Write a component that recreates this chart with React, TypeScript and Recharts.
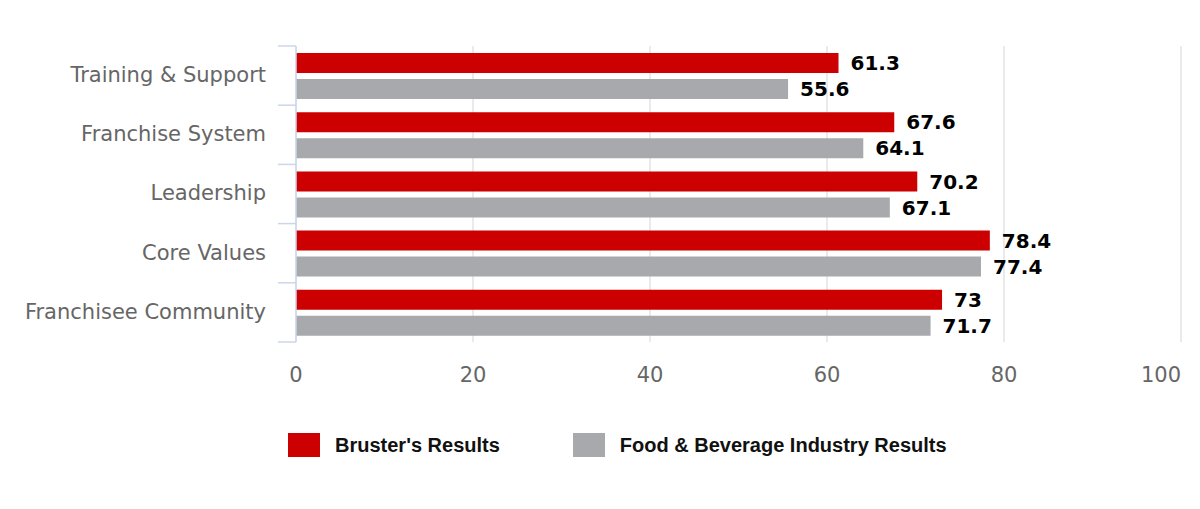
import { BarChart, Bar, XAxis, YAxis, CartesianGrid, LabelList, Legend } from 'recharts'

const categories = ['Training & Support', 'Franchise System', 'Leadership', 'Core Values', 'Franchisee Community']
const brustersResults = [61.3, 67.6, 70.2, 78.4, 73]
const industryResults = [55.6, 64.1, 67.1, 77.4, 71.7]
const xTicks = [0, 20, 40, 60, 80, 100]

const seriesNames = ["Bruster's Results", 'Food & Beverage Industry Results']
const RED = '#cc0000'
const GRAY = '#a7a9ac'

const data = categories.map((name, i) => ({
  name,
  brusters: brustersResults[i],
  industry: industryResults[i],
}))

const WIDTH = 1200
const HEIGHT = 509
const MARGIN = { top: 46, right: 19, bottom: 127, left: 0 }
const X_AXIS_HEIGHT = 40
const PLOT_HEIGHT = HEIGHT - MARGIN.top - MARGIN.bottom - X_AXIS_HEIGHT
const BAND = PLOT_HEIGHT / categories.length
const Y_TICK_MARGIN = 30
const Y_TICK_LEN = 18

const FONT = '"DejaVu Sans", Verdana, sans-serif'

function CategoryTick(props: any) {
  const { x, y, payload, index } = props
  const axisX = x + Y_TICK_MARGIN
  const last = index === categories.length - 1
  return (
    <g>
      <line x1={axisX - Y_TICK_LEN} x2={axisX} y1={y - BAND / 2} y2={y - BAND / 2} stroke="#ccd6eb" strokeWidth={1.5} />
      {last && (
        <line x1={axisX - Y_TICK_LEN} x2={axisX} y1={y + BAND / 2} y2={y + BAND / 2} stroke="#ccd6eb" strokeWidth={1.5} />
      )}
      <text x={x} y={y} dy="0.3em" textAnchor="end" fill="#666" fontSize={21} fontFamily={FONT}>
        {payload.value}
      </text>
    </g>
  )
}

// last label is pulled inside the plot edge, like the original
function ValueTick(props: any) {
  const { x, y, payload, index } = props
  const last = index === xTicks.length - 1
  return (
    <text x={last ? x : x} y={y} dy="0.71em" textAnchor={last ? 'end' : 'middle'} fill="#666" fontSize={21} fontFamily={FONT}>
      {payload.value}
    </text>
  )
}

function LegendContent() {
  const colors = [RED, GRAY]
  return (
    <div style={{ display: 'flex', alignItems: 'center', fontFamily: '"Liberation Sans", Arial, sans-serif', fontWeight: 'bold', fontSize: 20, color: '#111', whiteSpace: 'nowrap' }}>
      {seriesNames.map((n, i) => (
        <div key={n} style={{ display: 'flex', alignItems: 'center', marginRight: 73 }}>
          <span style={{ display: 'inline-block', width: 32, height: 24, background: colors[i], marginRight: 15 }} />
          <span>{n}</span>
        </div>
      ))}
    </div>
  )
}

export default function App() {
  return (
    <div style={{ position: 'absolute', left: 0, top: 0, background: '#fff' }}>
      <BarChart
        width={WIDTH}
        height={HEIGHT}
        data={data}
        layout="vertical"
        margin={MARGIN}
        barSize={20}
        barGap={6}
      >
        <CartesianGrid horizontal={false} stroke="#e3e3e3" strokeWidth={1.5} />
        <XAxis
          type="number"
          domain={[0, 100]}
          ticks={xTicks}
          axisLine={false}
          tickLine={false}
          tickSize={0}
          tickMargin={25}
          height={X_AXIS_HEIGHT}
          tick={<ValueTick />}
          interval={0}
        />
        <YAxis
          type="category"
          dataKey="name"
          width={296}
          axisLine={{ stroke: '#ccd6eb', strokeWidth: 1.5 }}
          tickLine={false}
          tickSize={0}
          tickMargin={Y_TICK_MARGIN}
          tick={<CategoryTick />}
          interval={0}
        />
        <Legend
          layout="horizontal"
          verticalAlign="middle"
          align="center"
          content={<LegendContent />}
          wrapperStyle={{ position: 'absolute', top: 433, left: 288, width: 'auto' }}
        />
        <Bar dataKey="brusters" name={seriesNames[0]} fill={RED} isAnimationActive={false}>
          <LabelList dataKey="brusters" position="right" offset={12} fill="#000" fontSize={20} fontWeight="bold" fontFamily={FONT} />
        </Bar>
        <Bar dataKey="industry" name={seriesNames[1]} fill={GRAY} isAnimationActive={false}>
          <LabelList dataKey="industry" position="right" offset={12} fill="#000" fontSize={20} fontWeight="bold" fontFamily={FONT} />
        </Bar>
      </BarChart>
    </div>
  )
}
